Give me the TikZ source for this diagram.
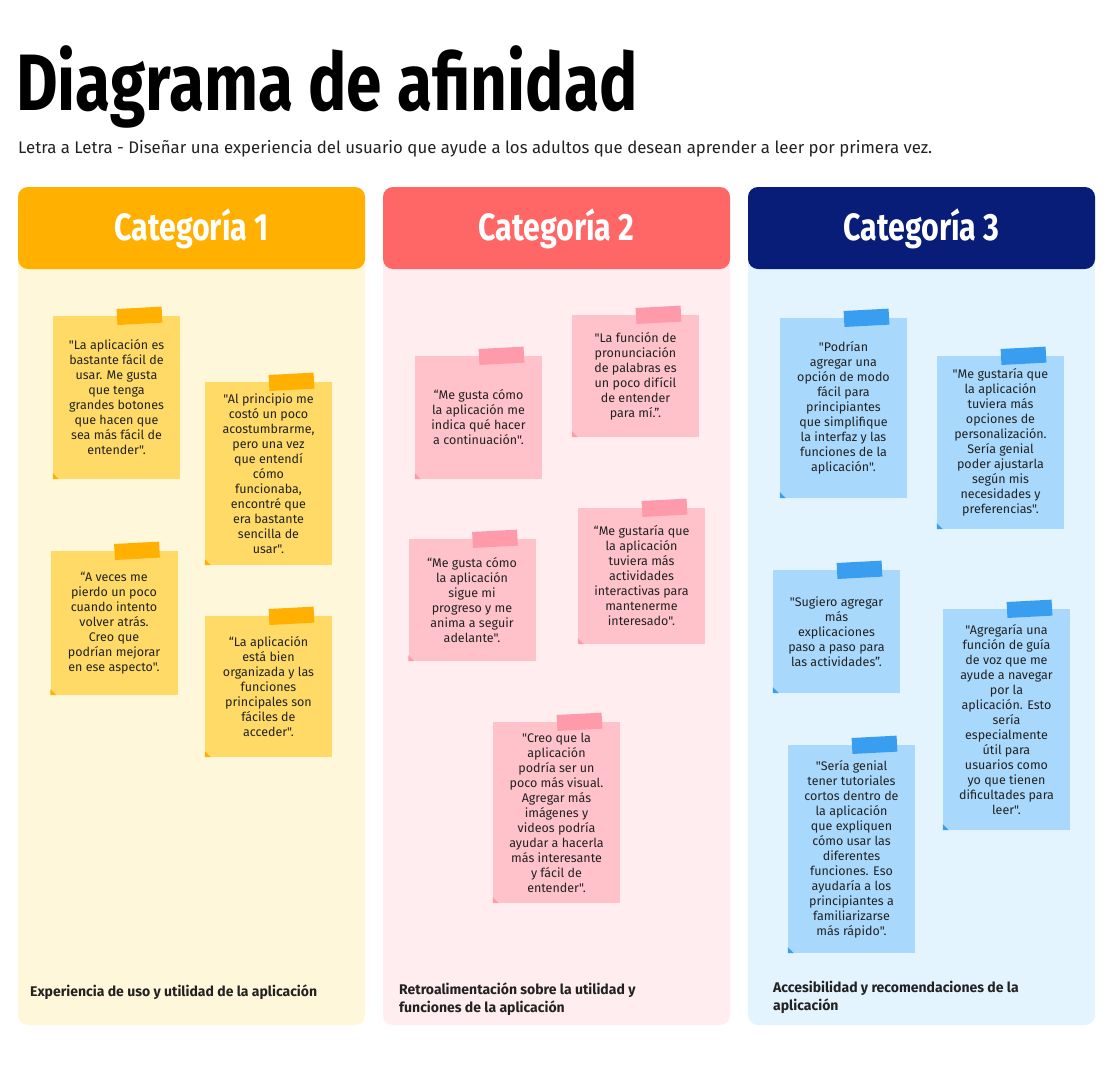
\documentclass[tikz,border=0pt]{standalone}
\usepackage{fontspec}
\setmainfont{Fira Sans}[Ligatures=TeXOff]
\newfontfamily\titlefont{Fira Sans}[FakeStretch=0.8]
\usetikzlibrary{positioning}

\definecolor{headO}{HTML}{FFB000}
\definecolor{bodyO}{HTML}{FFF7D9}
\definecolor{headR}{HTML}{FF6666}
\definecolor{bodyR}{HTML}{FFEDEF}
\definecolor{headB}{HTML}{081D78}
\definecolor{bodyB}{HTML}{E4F4FE}
\definecolor{noteY}{HTML}{FFDA66}
\definecolor{tapeY}{HTML}{FFB000}
\definecolor{noteP}{HTML}{FFC1CA}
\definecolor{tapeP}{HTML}{FF9AAA}
\definecolor{noteB}{HTML}{A8D8FC}
\definecolor{tapeB}{HTML}{3A9EF0}
\definecolor{ink}{HTML}{222222}

\begin{document}
\begin{tikzpicture}[x=1pt, y=-1pt,
    head/.style={text=white, font=\titlefont\bfseries\fontsize{38}{40}\selectfont},
    note/.style={minimum width=127pt, inner sep=0pt, align=center, text=ink,
        font=\fontsize{12.5}{15}\selectfont},
    tape/.style={minimum width=45pt, minimum height=16pt, inner sep=0pt},
    foot/.style={anchor=west, align=left, inner sep=0pt, text=ink,
        font=\bfseries\fontsize{14}{18}\selectfont}]

        % Page
        \fill[white] (0,0) rectangle (1111,1080);
        \useasboundingbox (0,0) rectangle (1111,1080);

        % Title
        \node[anchor=base west, inner sep=0pt, font=\titlefont\bfseries\fontsize{80}{80}\selectfont]
            (title) at (16,110) {Diagrama de afinidad};
        \node[anchor=base west, inner sep=0pt, text=ink, font=\fontsize{16.8}{18}\selectfont]
            (subtitle) at (18,153) {Letra a Letra - Diseñar una experiencia del usuario que ayude a los adultos que desean aprender a leer por primera vez.};

        % Columns
        \def\top{187}
        \def\bot{1025}
        \foreach \x/\body in {18/bodyO, 383/bodyR, 748/bodyB} {
            \fill[\body, rounded corners=10pt] (\x,\top) rectangle (\x+347,\bot);
        }
        \fill[headO, rounded corners=10pt] (18,\top) rectangle (365,269);
        \fill[headR, rounded corners=10pt] (383,\top) rectangle (730,269);
        \fill[headB, rounded corners=10pt] (748,\top) rectangle (1095,269);
        \node[head] (cat1) at (191.5,229) {Categoría 1};
        \node[head] (cat2) at (556.5,229) {Categoría 2};
        \node[head] (cat3) at (921.5,229) {Categoría 3};

        % Notes, category 1
        \node[note, fill=noteY, minimum height=163pt] (n1) at (116.5,397.5)
            {"La aplicación es\\bastante fácil de\\usar. Me gusta\\que tenga\\grandes botones\\que hacen que\\sea más fácil de\\entender".};
        \node[note, fill=noteY, minimum height=183pt] (n2) at (268.5,473.5)
            {"Al principio me\\costó un poco\\acostumbrarme,\\pero una vez\\que entendí\\cómo\\funcionaba,\\encontré que\\era bastante\\sencilla de\\usar".};
        \node[note, fill=noteY, minimum height=144pt] (n3) at (114,623)
            {“A veces me\\pierdo un poco\\cuando intento\\volver atrás.\\Creo que\\podrían mejorar\\en ese aspecto".};
        \node[note, fill=noteY, minimum height=141pt] (n4) at (268.5,686.5)
            {“La aplicación\\está bien\\organizada y las\\funciones\\principales son\\fáciles de\\acceder".};

        % Notes, category 2
        \node[note, fill=noteP, minimum height=123pt] (n5) at (478.5,417.5)
            {“Me gusta cómo\\la aplicación me\\indica qué hacer\\a continuación".};
        \node[note, fill=noteP, minimum height=122pt] (n6) at (635.5,376)
            {"La función de\\pronunciación\\de palabras es\\un poco difícil\\de entender\\para mí.”.};
        \node[note, fill=noteP, minimum height=122pt] (n7) at (472,600)
            {“Me gusta cómo\\la aplicación\\sigue mi\\progreso y me\\anima a seguir\\adelante".};
        \node[note, fill=noteP, minimum height=136pt] (n8) at (641.5,576)
            {“Me gustaría que\\la aplicación\\tuviera más\\actividades\\interactivas para\\mantenerme\\interesado".};
        \node[note, fill=noteP, minimum height=181pt] (n9) at (556.5,812.5)
            {"Creo que la\\aplicación\\podría ser un\\poco más visual.\\Agregar más\\imágenes y\\videos podría\\ayudar a hacerla\\más interesante\\y fácil de\\entender".};

        % Notes, category 3
        \node[note, fill=noteB, minimum height=180pt] (n10) at (843.5,408)
            {"Podrían\\agregar una\\opción de modo\\fácil para\\principiantes\\que simplifique\\la interfaz y las\\funciones de la\\aplicación".};
        \node[note, fill=noteB, minimum height=173pt] (n11) at (1000.5,442.5)
            {"Me gustaría que\\la aplicación\\tuviera más\\opciones de\\personalización.\\Sería genial\\poder ajustarla\\según mis\\necesidades y\\preferencias".};
        \node[note, fill=noteB, minimum height=123pt] (n12) at (836.5,631.5)
            {"Sugiero agregar\\más\\explicaciones\\paso a paso para\\las actividades”.};
        \node[note, fill=noteB, minimum height=221pt] (n13) at (1006.5,719.5)
            {"Agregaría una\\función de guía\\de voz que me\\ayude a navegar\\por la\\aplicación. Esto\\sería\\especialmente\\útil para\\usuarios como\\yo que tienen\\dificultades para\\leer".};
        \node[note, fill=noteB, minimum height=208pt] (n14) at (851.5,849)
            {"Sería genial\\tener tutoriales\\cortos dentro de\\la aplicación\\que expliquen\\cómo usar las\\diferentes\\funciones. Eso\\ayudaría a los\\principiantes a\\familiarizarse\\más rápido".};

        % Tapes and folded corners
        \foreach \n/\c in {n1/tapeY, n2/tapeY, n3/tapeY, n4/tapeY,
                           n5/tapeP, n6/tapeP, n7/tapeP, n8/tapeP, n9/tapeP,
                           n10/tapeB, n11/tapeB, n12/tapeB, n13/tapeB, n14/tapeB} {
            \node[tape, fill=\c, rotate=3] at ([xshift=23pt]\n.north) {};
            \fill[\c] (\n.south west) -- ++(6,0) -- ++(-6,-6) -- cycle;
        }

        % Category descriptions
        \node[foot] (d1) at (30,992) {Experiencia de uso y utilidad de la aplicación};
        \node[foot] (d2) at (399,999) {Retroalimentación sobre la utilidad y\\funciones de la aplicación};
        \node[foot] (d3) at (773,997) {Accesibilidad y recomendaciones de la\\aplicación};

    \end{tikzpicture}
\end{document}
